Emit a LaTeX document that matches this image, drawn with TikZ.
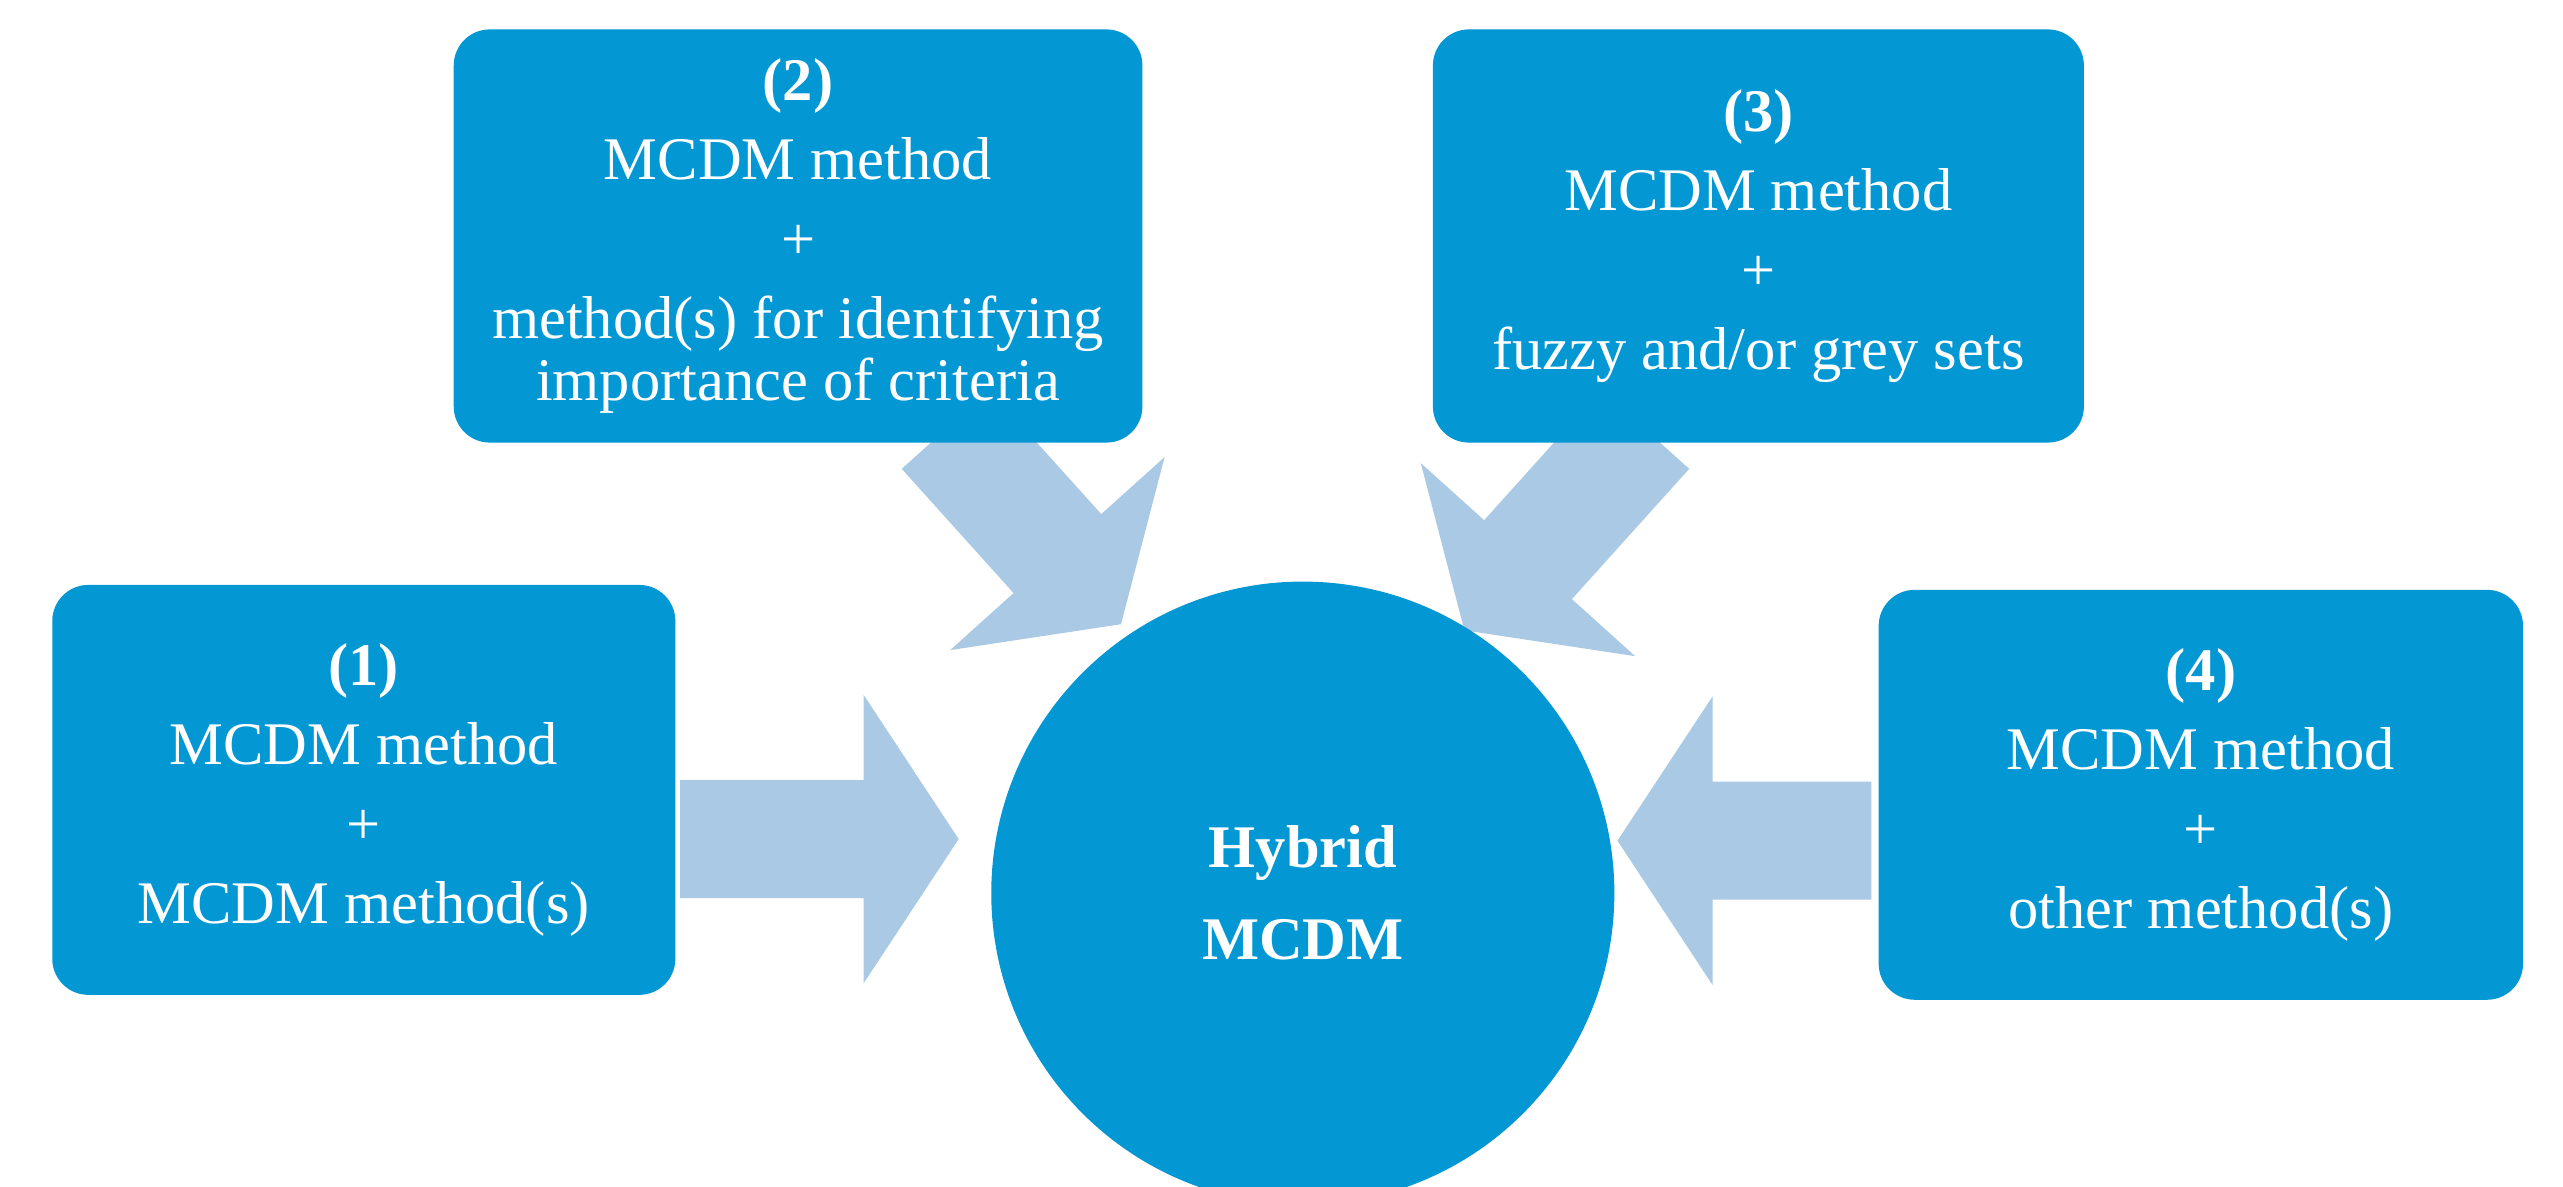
\documentclass[tikz,border=0pt]{standalone}
\usepackage{fontspec}
\setmainfont{Liberation Serif}
\begin{document}
\begin{tikzpicture}[x=0.01cm,y=-0.01cm,
  box/.style={fill=boxblue,rounded corners=0.22cm,text=white,align=center,inner sep=0pt,
    font=\fontsize{10.5}{13.8}\selectfont},
  arr/.style={fill=arrblue}]
\definecolor{boxblue}{HTML}{0397D3}
\definecolor{arrblue}{HTML}{A9C9E5}
\fill[white] (0,0) rectangle (1564,724);
\useasboundingbox (0,0) rectangle (1564,724);
\newcommand{\blockarrow}[4]{% x,y,angle,length
  \begin{scope}[shift={(#1,#2)},rotate=#3]
  \fill[arrblue] (0,-36) -- (#4-58,-36) -- (#4-58,-88) -- (#4,0) -- (#4-58,88) -- (#4-58,36) -- (0,36) -- cycle;
  \end{scope}}
\blockarrow{415}{512}{0}{170}
\blockarrow{1142}{513}{180}{155}
\blockarrow{577}{262}{-48}{160}
\blockarrow{1004}{262}{-132}{165}
\node[box,minimum width=3.80cm,minimum height=2.50cm] (b1) at (222,482)
  {\textbf{(1)}\\MCDM method\\+\\MCDM method(s)};
\node[box,minimum width=4.20cm,minimum height=2.52cm] (b2) at (487,144)
  {\textbf{(2)}\\MCDM method\\+\\method(s) for identifying\\[-3pt]importance of criteria};
\node[box,minimum width=3.97cm,minimum height=2.52cm] (b3) at (1073,144)
  {\textbf{(3)}\\MCDM method\\+\\fuzzy and/or grey sets};
\node[box,minimum width=3.93cm,minimum height=2.50cm] (b4) at (1343,485)
  {\textbf{(4)}\\MCDM method\\+\\other method(s)};
\node[circle,fill=boxblue,minimum size=3.80cm,inner sep=0pt,text=white,align=center,
  font=\fontsize{10.5}{16}\selectfont\bfseries] (h) at (795,545) {Hybrid\\MCDM};
\end{tikzpicture}
\end{document}
